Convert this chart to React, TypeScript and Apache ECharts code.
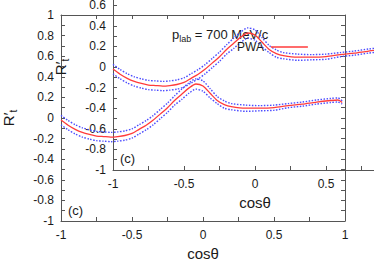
import React, { useEffect, useRef } from "react";
import * as echarts from "echarts";

const cosTheta = [-1, -0.95, -0.9, -0.85, -0.8, -0.75, -0.7, -0.65, -0.6, -0.55, -0.5, -0.45, -0.4, -0.35, -0.3, -0.25, -0.2, -0.15, -0.1, -0.05, 0, 0.05, 0.1, 0.15, 0.2, 0.3, 0.4, 0.5, 0.6, 0.7, 0.8, 0.9, 0.95, 0.98];
const pwaCentral = [-0.02, -0.07, -0.11, -0.14, -0.16, -0.175, -0.18, -0.185, -0.18, -0.17, -0.15, -0.11, -0.07, -0.02, 0.04, 0.1, 0.17, 0.23, 0.29, 0.33, 0.31, 0.24, 0.17, 0.13, 0.11, 0.095, 0.095, 0.1, 0.12, 0.135, 0.155, 0.17, 0.175, 0.15];
const pwaUpper = [0.025, -0.025, -0.065, -0.095, -0.115, -0.13, -0.135, -0.14, -0.135, -0.125, -0.105, -0.065, -0.025, 0.025, 0.085, 0.145, 0.215, 0.28, 0.34, 0.38, 0.36, 0.285, 0.21, 0.165, 0.14, 0.125, 0.12, 0.125, 0.14, 0.155, 0.175, 0.19, 0.195, 0.165];
const pwaLower = [-0.065, -0.115, -0.155, -0.185, -0.205, -0.22, -0.225, -0.23, -0.225, -0.215, -0.195, -0.155, -0.115, -0.065, -0.005, 0.055, 0.125, 0.18, 0.24, 0.28, 0.26, 0.195, 0.14, 0.095, 0.08, 0.065, 0.07, 0.075, 0.1, 0.115, 0.135, 0.15, 0.155, 0.135];

const xTitle = "cosθ";
const panelLabel = "(c)";
const legendName = "PWA";

const FONT = '"Liberation Sans", Arial, Helvetica, sans-serif';
const AXIS_COLOR = "#555";
const TEXT_COLOR = "#1a1a1a";

function pairs(ys: number[]) {
  return cosTheta.map((c, i) => [c, ys[i]]);
}

export default function App() {
  const ref = useRef<HTMLDivElement>(null);
  useEffect(() => {
    if (!ref.current) return;
    const chart = echarts.init(ref.current, null, { renderer: "svg" });

    const grids = [
      { left: 61, top: 15, width: 284, height: 206 },
      { left: 113, top: -36, width: 284, height: 206 },
    ];

    const xLabelFmt = (v: number) => {
      const k = Math.round(v * 4);
      return k % 2 === 0 ? String(k / 4) : "";
    };
    const yLabelFmt = (v: number) => {
      const k = Math.round(v * 10);
      return k % 2 === 0 ? String(k / 10) : "";
    };

    const axisLine = { show: true, onZero: false, lineStyle: { color: AXIS_COLOR, width: 1 } };
    const tick = { show: true, inside: true, length: 4, lineStyle: { color: AXIS_COLOR } };

    const xAxes: any[] = [];
    const yAxes: any[] = [];
    grids.forEach((_, g) => {
      xAxes.push({
        gridIndex: g, type: "value", position: "bottom", min: -1, max: 1, interval: 0.25,
        axisLine, axisTick: tick, splitLine: { show: false },
        axisLabel: { formatter: xLabelFmt, color: TEXT_COLOR, fontSize: 12, fontFamily: FONT, margin: 8, hideOverlap: false },
        name: xTitle, nameLocation: "middle", nameGap: 25,
        nameTextStyle: { color: TEXT_COLOR, fontSize: 15, fontFamily: FONT },
      });
      xAxes.push({
        gridIndex: g, type: "value", position: "top", min: -1, max: 1, interval: 0.25,
        axisLine, axisTick: tick, splitLine: { show: false }, axisLabel: { show: false },
      });
      yAxes.push({
        gridIndex: g, type: "value", position: "left", min: -1, max: 1, interval: 0.1,
        axisLine, axisTick: tick, splitLine: { show: false },
        axisLabel: { formatter: yLabelFmt, color: TEXT_COLOR, fontSize: 12, fontFamily: FONT, margin: 7, hideOverlap: false },
        name: "{r|R′}{t|t}", nameLocation: "middle", nameGap: 43, nameRotate: 90,
        nameTextStyle: {
          color: TEXT_COLOR, fontFamily: FONT,
          rich: {
            r: { fontSize: 15, fontFamily: FONT, color: TEXT_COLOR, lineHeight: 20, verticalAlign: "middle" },
            t: { fontSize: 10, fontFamily: FONT, color: TEXT_COLOR, lineHeight: 20, verticalAlign: "bottom" },
          },
        },
      });
      yAxes.push({
        gridIndex: g, type: "value", position: "right", min: -1, max: 1, interval: 0.1,
        axisLine, axisTick: tick, splitLine: { show: false }, axisLabel: { show: false },
      });
    });

    const series: any[] = [];
    grids.forEach((_, g) => {
      const common = { type: "line", xAxisIndex: g * 2, yAxisIndex: g * 2, symbol: "none", smooth: 0.25, silent: true };
      series.push({ ...common, name: "upper", data: pairs(pwaUpper), lineStyle: { color: "#4d4dff", width: 1.4, type: [1.5, 1.5] } });
      series.push({ ...common, name: "lower", data: pairs(pwaLower), lineStyle: { color: "#4d4dff", width: 1.4, type: [1.5, 1.5] } });
      series.push({ ...common, name: legendName, data: pairs(pwaCentral), lineStyle: { color: "#ff3b3b", width: 1.3 }, itemStyle: { color: "#ff3b3b" } });
    });

    chart.setOption({
      animation: false,
      backgroundColor: "#fff",
      grid: grids.map((g) => ({ ...g, containLabel: false, outerBoundsMode: "none" })),
      xAxis: xAxes,
      yAxis: yAxes,
      legend: {
        data: [legendName], left: 237, top: 41, padding: 0, align: "right", itemWidth: 37, itemHeight: 1.5, itemGap: 0,
        icon: "rect", selectedMode: false,
        textStyle: { color: TEXT_COLOR, fontSize: 12, fontFamily: FONT, padding: [0, 2, 0, 0] },
      },
      series,
      graphic: [
        { type: "text", x: 68, y: 210, style: { text: panelLabel, font: `13px ${FONT}`, fill: TEXT_COLOR, verticalAlign: "middle" } },
        { type: "text", x: 120, y: 158, style: { text: panelLabel, font: `13px ${FONT}`, fill: TEXT_COLOR, verticalAlign: "middle" } },
        {
          type: "text", x: 172, y: 34,
          style: {
            text: "{p|p}{s|lab}{n| = 700 MeV/c}", verticalAlign: "middle", fill: TEXT_COLOR,
            rich: {
              p: { fontSize: 13, fontFamily: FONT, fill: TEXT_COLOR, lineHeight: 18, verticalAlign: "middle" },
              s: { fontSize: 9, fontFamily: FONT, fill: TEXT_COLOR, lineHeight: 18, verticalAlign: "bottom" },
              n: { fontSize: 13, fontFamily: FONT, fill: TEXT_COLOR, lineHeight: 18, verticalAlign: "middle" },
            },
          },
        },
      ],
    });
    return () => chart.dispose();
  }, []);
  return <div ref={ref} style={{ position: "absolute", left: 0, top: 0, width: 374, height: 262 }} />;
}
